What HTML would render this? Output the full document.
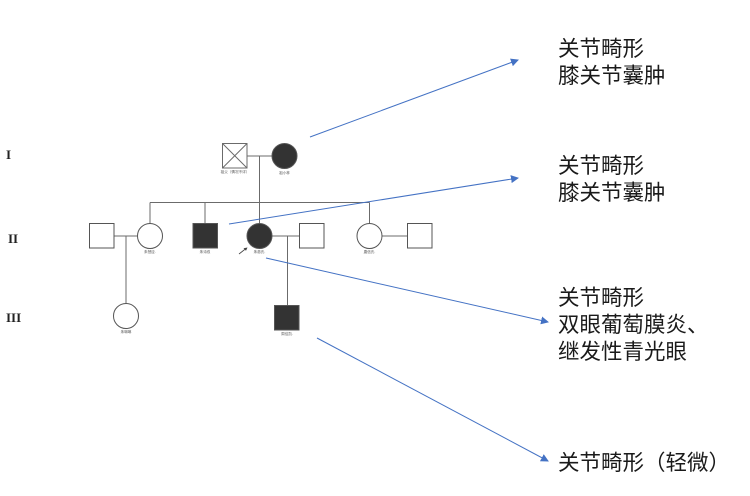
<!DOCTYPE html>
<html><head><meta charset="utf-8"><style>
html,body{margin:0;padding:0;background:#fff;}
svg{display:block;}
.t{font-family:"Liberation Sans","Noto Sans CJK SC",sans-serif;font-size:21.5px;fill:#1a1a1a;}
.lb{font-family:"Liberation Sans","Noto Sans CJK SC",sans-serif;font-size:3.6px;fill:#555;}
.r{font-family:"Liberation Serif",serif;font-weight:bold;font-size:13px;fill:#222;}
</style></head><body>
<svg width="750" height="496" viewBox="0 0 750 496" xmlns="http://www.w3.org/2000/svg">
<defs>
<marker id="ah" markerWidth="8" markerHeight="8" refX="7" refY="4" orient="auto" markerUnits="userSpaceOnUse">
<path d="M0,0 L8,4 L0,8 z" fill="#4472C4"/>
</marker>
</defs>
<g stroke="#6b6b6b" stroke-width="1" fill="none">
<rect x="222.5" y="143.5" width="24.5" height="24.5" fill="#fff"/>
<line x1="222.5" y1="143.5" x2="247" y2="168"/>
<line x1="247" y1="143.5" x2="222.5" y2="168"/>
<line x1="247" y1="156" x2="272" y2="156"/>
<line x1="259.5" y1="156" x2="259.5" y2="202.5"/>
<line x1="150" y1="202.5" x2="369.5" y2="202.5"/>
<line x1="150" y1="202.5" x2="150" y2="223.5"/>
<line x1="205" y1="202.5" x2="205" y2="223.5"/>
<line x1="259.5" y1="202.5" x2="259.5" y2="223.5"/>
<line x1="369.5" y1="202.5" x2="369.5" y2="223.5"/>
<line x1="114" y1="236" x2="137.5" y2="236"/>
<line x1="126" y1="236" x2="126" y2="303.5"/>
<line x1="272" y1="236" x2="299.5" y2="236"/>
<line x1="287.5" y1="236" x2="287.5" y2="305.5"/>
<line x1="382" y1="236" x2="407.5" y2="236"/>
</g>
<g stroke="#555" stroke-width="1">
<circle cx="284.5" cy="156" r="12.5" fill="#333"/>
<rect x="89.5" y="223.5" width="24.5" height="24.5" fill="#fff"/>
<circle cx="150" cy="236" r="12.5" fill="#fff"/>
<rect x="193" y="223.5" width="24.5" height="24.5" fill="#333"/>
<circle cx="259.5" cy="236" r="12.5" fill="#333"/>
<rect x="299.5" y="223.5" width="24.5" height="24.5" fill="#fff"/>
<circle cx="369.5" cy="236" r="12.5" fill="#fff"/>
<rect x="407.5" y="223.5" width="24.5" height="24.5" fill="#fff"/>
<circle cx="126" cy="316" r="12.5" fill="#fff"/>
<rect x="274.5" y="305.5" width="24.5" height="24.5" fill="#333"/>
</g>
<line x1="239" y1="254" x2="246" y2="248.5" stroke="#444" stroke-width="0.8"/>
<path d="M247.5,247.5 L243.5,248.3 L246,250.8 z" fill="#444"/>
<text class="lb" x="235" y="173" text-anchor="middle">祖父（情况不详）</text>
<text class="lb" x="284.5" y="174" text-anchor="middle">祖小林</text>
<text class="lb" x="150" y="253" text-anchor="middle">朱慧臣.</text>
<text class="lb" x="205" y="253" text-anchor="middle">朱诗双</text>
<text class="lb" x="259.5" y="253" text-anchor="middle">朱慈氏.</text>
<text class="lb" x="369.5" y="253" text-anchor="middle">唐信氏.</text>
<text class="lb" x="126" y="333" text-anchor="middle">朱琳琳</text>
<text class="lb" x="287" y="335" text-anchor="middle">周佳凯.</text>
<text class="r" x="6" y="159">I</text>
<text class="r" x="8" y="243">II</text>
<text class="r" x="6" y="322">III</text>
<g stroke="#4472C4" stroke-width="1" marker-end="url(#ah)">
<line x1="310" y1="137" x2="518" y2="60"/>
<line x1="229" y1="224" x2="518" y2="178"/>
<line x1="266" y1="258" x2="548" y2="322"/>
<line x1="317" y1="338" x2="548" y2="461"/>
</g>
<text class="t" x="558" y="56">关节畸形</text>
<text class="t" x="558" y="83">膝关节囊肿</text>
<text class="t" x="558" y="173">关节畸形</text>
<text class="t" x="558" y="200">膝关节囊肿</text>
<text class="t" x="558" y="305">关节畸形</text>
<text class="t" x="558" y="332">双眼葡萄膜炎、</text>
<text class="t" x="558" y="359">继发性青光眼</text>
<text class="t" x="558" y="470">关节畸形（轻微）</text>
</svg>
</body></html>
